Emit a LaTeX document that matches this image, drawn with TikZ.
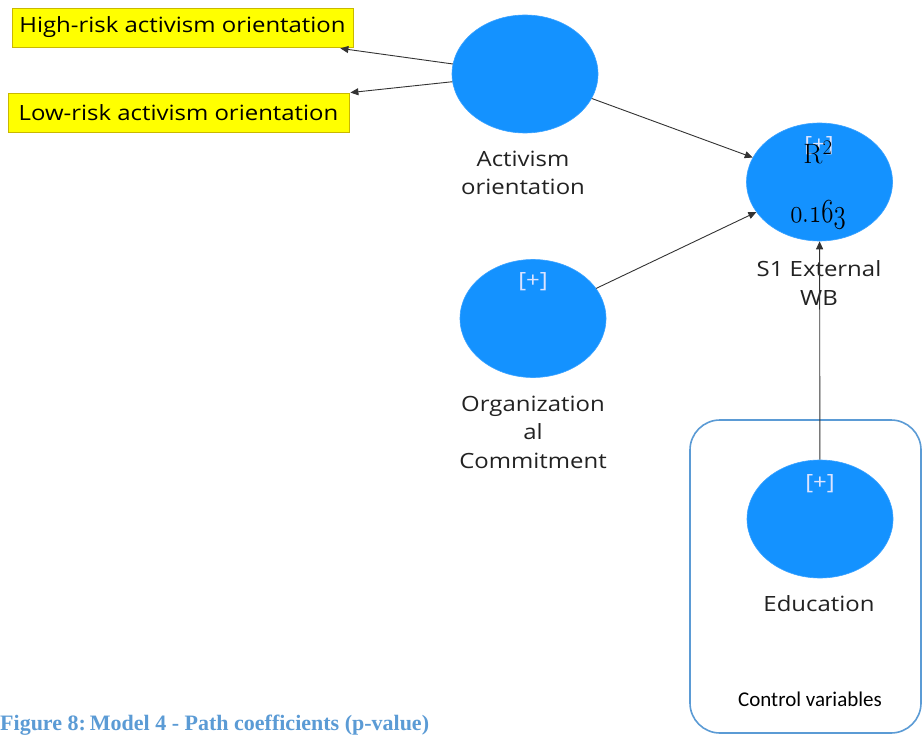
\documentclass[tikz,border=0pt]{standalone}
\usepackage{fontspec}
\usepackage{graphicx}
\setmainfont{Open Sans}[FakeStretch=1.14]
\newfontfamily\capfont{Liberation Serif}[FakeStretch=1.0]
\newfontfamily\cvfont{Carlito}
\newfontfamily\rfont{Latin Modern Roman}
\newcommand\osnum[1]{{\usefont{OML}{cmm}{m}{it}#1}}
\usetikzlibrary{shapes.geometric,arrows.meta}
\definecolor{lvblue}{HTML}{1492FF}
\definecolor{lvedge}{HTML}{3AA2FF}
\definecolor{ctlblue}{HTML}{5B9BD5}
\definecolor{ybox}{HTML}{FFFF00}
\definecolor{yedge}{HTML}{C9B800}
\definecolor{lbl}{HTML}{222222}
\definecolor{plus}{HTML}{DCE4FF}
\definecolor{arr}{HTML}{333333}
\begin{document}
\begin{tikzpicture}[x=1pt,y=-1pt,
  lv/.style={ellipse,fill=lvblue,draw=lvedge,line width=0.6pt,minimum width=146pt,minimum height=118pt,inner sep=0pt},
  ind/.style={rectangle,fill=ybox,draw=yedge,line width=0.8pt,minimum width=341pt,minimum height=39pt,inner sep=0pt,font=\fontsize{21}{25}\selectfont,text=black},
  lvlabel/.style={align=center,font=\fontsize{21}{28.5}\selectfont,text=lbl,inner sep=0pt},
  plustxt/.style={font=\fontsize{21}{25}\selectfont,text=plus,inner sep=0pt},
  path/.style={draw=arr,line width=0.9pt,-{Triangle[length=8pt,width=7pt]}},
  ctlbox/.style={rectangle,rounded corners=30pt,draw=ctlblue,line width=1.6pt,minimum width=231pt,minimum height=313pt,inner sep=0pt}
]
\useasboundingbox (0,0) rectangle (923,735);
\fill[white] (0,0) rectangle (923,735);

% control variables container
\node[ctlbox] (ctl) at (805.5,576.5) {};
\node[font=\cvfont\fontsize{21}{25}\selectfont,text=black,inner sep=0pt] (ctltxt) at (810,699) {Control variables};

% indicator boxes
\node[ind] (hr) at (182.5,27.5) {High-risk activism orientation};
\node[ind] (lr) at (178.5,112.5) {Low-risk activism orientation};

% latent variables
\node[lv] (act) at (525,74) {};
\node[lv] (s1) at (819.5,182) {};
\node[lv] (org) at (533,318.5) {};
\node[lv] (edu) at (820,519) {};

% [+] markers
\node[plustxt] (s1p) at (819,146) {[+]};
\node[plustxt] (orgp) at (533,282) {[+]};
\node[plustxt] (edup) at (820,484) {[+]};

% R^2
\node[font=\rfont\fontsize{28}{32}\selectfont,text=black,inner sep=0pt] (r2) at (818,153) {R$^{\scriptstyle 2}$};
\node[font=\fontsize{27}{30}\selectfont,text=black,inner sep=0pt] (r2v) at (818,215) {\scalebox{1}[1.35]{\osnum{0}{\rfont.}\osnum{163}}};

% labels
\node[lvlabel] (actl) at (523,173) {Activism\\orientation};
\node[lvlabel] (s1l) at (819,283) {S1 External\\WB};
\node[lvlabel] (orgl) at (533,432) {Organization\\al\\Commitment};
\node[lvlabel] (edul) at (819,604) {Education};

% paths
\draw[path] (act) -- ([xshift=-13pt,yshift=-1pt]hr.south east);
\draw[path] (act) -- ([xshift=1pt]lr.north east);
\draw[path] (act) -- (s1);
\draw[path] (org) -- (s1);
\draw[path] (edu) -- (s1);

% caption
\node[anchor=base west,font=\capfont\bfseries\fontsize{22}{25}\selectfont,text=ctlblue,inner sep=0pt] (cap) at (0,730) {Figure 8:\hspace{-0.15em} Model 4 - Path coefficients (p-value)};
\end{tikzpicture}
\end{document}
